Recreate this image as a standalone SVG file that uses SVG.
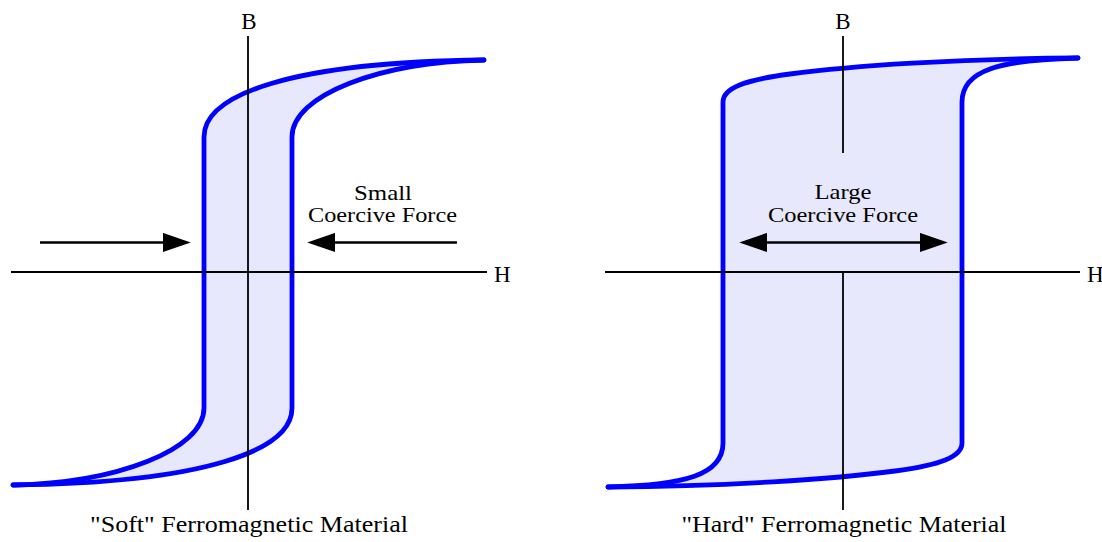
<svg xmlns="http://www.w3.org/2000/svg" width="1102" height="542" viewBox="0 0 1102 542">
<style>
.fill{fill:#e8e8fc;stroke:none}
.loop{fill:none;stroke:#0000ff;stroke-width:4.8;stroke-linecap:round;stroke-linejoin:round}
.axis{fill:none;stroke:#000;stroke-width:1.8}
.arrow{fill:none;stroke:#000;stroke-width:2.4}
text{font-family:"Liberation Serif","DejaVu Serif",serif;font-size:23px;fill:#000}
.s{font-size:21px}
.c{text-anchor:middle}
</style>
<defs>
<marker id="head" markerUnits="userSpaceOnUse" markerWidth="28" markerHeight="20" refX="16" refY="9" orient="auto-start-reverse" viewBox="0 0 26 18">
<path d="M0,0 L26,9 L0,18 Z" fill="#000"/>
</marker>
</defs>
<rect width="1102" height="542" fill="#fff"/>

<g id="soft-loop">
<path class="fill" d="M484,60 C380,62 292,95 292,137 L292,408 C292,450 206,483 12,485 C116,483 204,450 204,408 L204,137 C204,95 290,62 484,60 Z"/>
<path class="loop" d="M484,60 C380,62 292,95 292,137 L292,408 C292,450 206,483 13,485"/>
<path class="loop" d="M13,485 C116,483 204,450 204,408 L204,137 C204,95 290,62 484,60"/>
</g>

<g id="hard-loop">
<path class="fill" d="M1078,58 C1000,60 962,70 962,102 L962,443 C962,457 940,465 895,471 C835,479 725,486.5 607,487 C685,485 723,475 723,443 L723,102 C723,88 745,80 790,74 C850,66 960,58.5 1078,58 Z"/>
<path class="loop" d="M1078,58 C1000,60 962,70 962,102 L962,443 C962,457 940,465 895,471 C835,479 725,486.5 608,487"/>
<path class="loop" d="M608,487 C685,485 723,475 723,443 L723,102 C723,88 745,80 790,74 C850,66 960,58.5 1078,58"/>
</g>

<g id="soft-axes">
<line class="axis" x1="11" y1="272" x2="487" y2="272"/>
<line class="axis" x1="248" y1="36" x2="248" y2="510"/>
<text x="249" y="29" class="c">B</text>
<text x="494" y="281.5">H</text>
</g>

<g id="hard-axes">
<line class="axis" x1="605" y1="272" x2="1080" y2="272"/>
<line class="axis" x1="843" y1="36" x2="843" y2="153"/>
<line class="axis" x1="843" y1="272" x2="843" y2="510"/>
<text x="843" y="29" class="c">B</text>
<text x="1087" y="281.5">H</text>
</g>

<g id="connectors">
<path class="arrow" d="M40,242.5 L180,242.5" marker-end="url(#head)"/>
<path class="arrow" d="M457,242.5 L318,242.5" marker-end="url(#head)"/>
<path class="arrow" d="M750,242.5 L937,242.5" marker-start="url(#head)" marker-end="url(#head)"/>
</g>

<g id="soft-label">
<text x="383" y="199.5" class="c s" textLength="58" lengthAdjust="spacingAndGlyphs">Small</text>
<text x="382.5" y="222" class="c s" textLength="149" lengthAdjust="spacingAndGlyphs">Coercive Force</text>
<text x="249" y="532" class="c" textLength="318" lengthAdjust="spacingAndGlyphs">"Soft" Ferromagnetic Material</text>
</g>

<g id="hard-label">
<text x="843" y="198.5" class="c s" textLength="57" lengthAdjust="spacingAndGlyphs">Large</text>
<text x="843" y="222" class="c s" textLength="150" lengthAdjust="spacingAndGlyphs">Coercive Force</text>
<text x="844" y="532" class="c" textLength="325" lengthAdjust="spacingAndGlyphs">"Hard" Ferromagnetic Material</text>
</g>
</svg>
